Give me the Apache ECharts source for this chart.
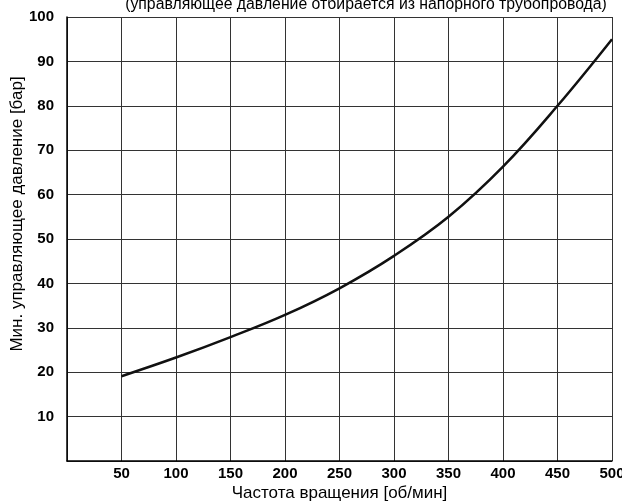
<!DOCTYPE html>
<html><head><meta charset="utf-8">
<script src="https://cdn.jsdelivr.net/npm/echarts@6/dist/echarts.min.js"></script>
<style>html,body{margin:0;padding:0;background:#fff}#c{width:622px;height:502px}</style>
</head><body><div id="c"></div>
<script>
const titleText = "(управляющее давление отбирается из напорного трубопровода)";
const xName = "Частота вращения [об/мин]";
const yName = "Мин. управляющее давление [бар]";
const speed = [50, 100, 150, 200, 250, 300, 350, 400, 450, 500];
const pressure = [19.1, 23.3, 27.9, 32.9, 38.9, 46.2, 55.0, 66.3, 80.0, 95.0];

const data = speed.map((s, i) => [s, pressure[i]]);
const chart = echarts.init(document.getElementById('c'), null, {renderer: 'canvas'});
const font = '"Liberation Sans", Arial, sans-serif';
chart.setOption({
  animation: false,
  title: {text: titleText, left: 361, textAlign: 'center', top: -8,
    textStyle: {fontFamily: font, fontWeight: 'normal', fontSize: 15.8, color: '#000'}},
  grid: {left: 67, right: 10, top: 17, bottom: 41, containLabel: false, outerBoundsMode: 'none'},
  xAxis: {type: 'value', min: 0, max: 500, interval: 50,
    name: xName, nameLocation: 'middle', nameGap: 24, nameMoveOverlap: false,
    nameTextStyle: {fontFamily: font, fontSize: 17, color: '#000'},
    axisLine: {show: true, lineStyle: {color: '#000', width: 1.5}},
    axisTick: {show: false},
    axisLabel: {fontFamily: font, fontWeight: 'bold', fontSize: 15, color: '#000', margin: 5,
      formatter: v => v === 0 ? '' : String(v)},
    splitLine: {show: true, lineStyle: {color: '#333', width: 1}}},
  yAxis: {type: 'value', min: 0, max: 100, interval: 10,
    name: yName, nameLocation: 'middle', nameGap: 41, nameRotate: 90, nameMoveOverlap: false,
    nameTextStyle: {fontFamily: font, fontSize: 17, color: '#000', padding: [0, 0, 0, 50]},
    axisLine: {show: true, lineStyle: {color: '#000', width: 1.5}},
    axisTick: {show: false},
    axisLabel: {fontFamily: font, fontWeight: 'bold', fontSize: 15, color: '#000', margin: 13,
      formatter: v => v === 0 ? '' : String(v)},
    splitLine: {show: true, lineStyle: {color: '#333', width: 1}}},
  series: [{type: 'line', data: data, smooth: 0.4, showSymbol: false,
    lineStyle: {color: '#111', width: 2.5}}]
});
</script></body></html>
